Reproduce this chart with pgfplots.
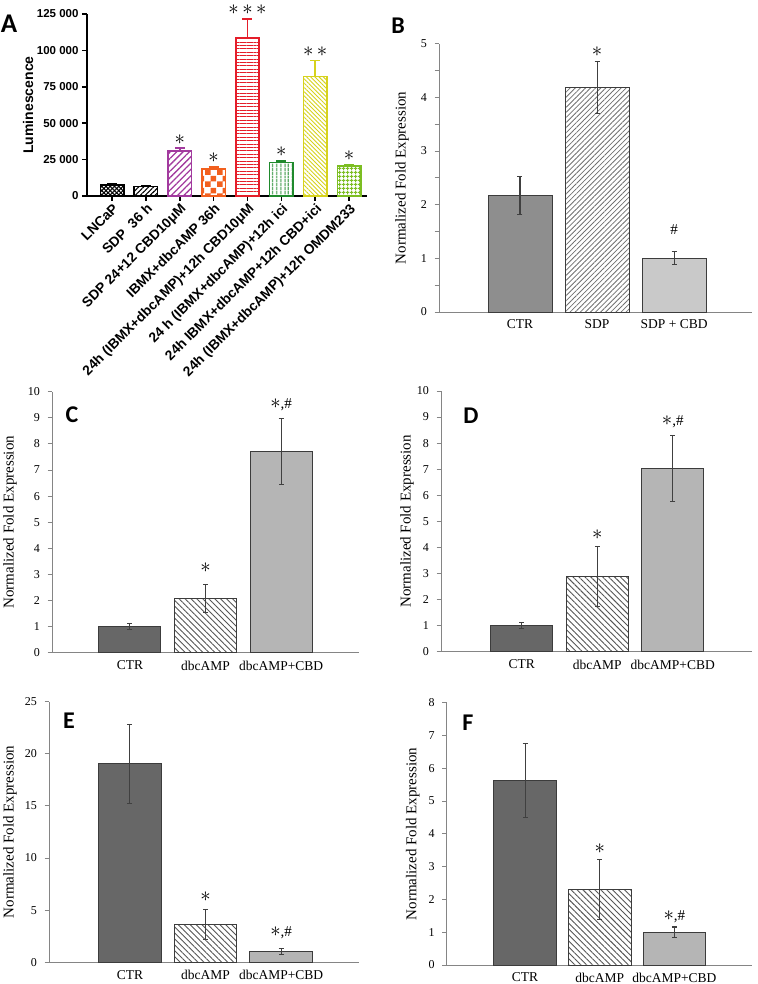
\documentclass[border=0pt]{standalone}
\usepackage{fontspec}
\setmainfont{Liberation Serif}
\newfontfamily\arial{Liberation Sans}
\newfontfamily\calib{Carlito}
\usepackage{pgfplots}
\pgfplotsset{compat=1.18}
\usetikzlibrary{patterns,patterns.meta}

\definecolor{cbdpurple}{HTML}{A23A9E}
\definecolor{dbcorange}{HTML}{F2601E}
\definecolor{cbdred}{HTML}{E41E2A}
\definecolor{icigreen}{HTML}{1F8A2C}
\definecolor{ciyellow}{HTML}{D6D21C}
\definecolor{omdmgreen}{HTML}{7CBE22}
\definecolor{axgray}{HTML}{858585}
\definecolor{edgegray}{HTML}{3C3C3C}
\definecolor{errgray}{HTML}{404040}
\definecolor{ctrB}{HTML}{8E8E8E}
\definecolor{cbdB}{HTML}{C9C9C9}
\definecolor{ctrC}{HTML}{676767}
\definecolor{cbdC}{HTML}{B5B5B5}
\definecolor{hatchB}{HTML}{707070}
\definecolor{hatchC}{HTML}{555555}

\DeclareRobustCommand\sig{{\fontsize{22}{22}\selectfont$\ast$}}
\DeclareRobustCommand\sigii{{\fontsize{22}{22}\selectfont${\ast}\,{\ast}$}}
\DeclareRobustCommand\sigiii{{\fontsize{22}{22}\selectfont${\ast}\,{\ast}\,{\ast}$}}
\DeclareRobustCommand\hsh{{\fontsize{15}{15}\selectfont\#}}
\DeclareRobustCommand\sighsh{{\fontsize{22}{22}\selectfont$\ast$}{\fontsize{15}{15}\selectfont,\#}}

\pgfplotsset{
  /pgf/number format/assume math mode=true,
  barA/.style={ybar, bar shift=0pt, bar width=0.69, draw=#1, line width=1.6pt,
    pattern color=#1,
    error bars/y dir=plus, error bars/y explicit,
    error bars/error bar style={line width=1.6pt, #1},
    error bars/error mark options={rotate=90, line width=1.6pt, #1, mark size=5pt}},
  barF/.style={ybar, bar shift=0pt, bar width=#1, draw=edgegray, line width=0.8pt,
    error bars/y dir=both, error bars/y explicit,
    error bars/error bar style={line width=1.1pt, errgray},
    error bars/error mark options={rotate=90, line width=1.1pt, errgray, mark size=2.5pt}},
  note/.style={only marks, mark=*, mark size=0pt, mark options={draw=none, fill=none},
    nodes near coords, point meta=explicit symbolic,
    nodes near coords style={anchor=south, inner sep=0pt, yshift=#1, text=black}},
  fold/.style={scale only axis, clip=false, ymin=0,
    axis x line=bottom, axis y line=left,
    axis line style={-, draw=axgray, line width=0.9pt},
    xtick={0,1,2}, xtick style={draw=none},
    ytick style={draw=axgray, line width=0.9pt},
    tick align=outside, major tick length=4.5pt, minor tick length=4.5pt,
    xticklabel style={font=\fontsize{13.5}{15}\selectfont, yshift=0pt},
    yticklabel style={font=\fontsize{12}{14}\selectfont, xshift=-4pt},
    ylabel={Normalized Fold Expression},
    ylabel style={font=\fontsize{15}{17}\selectfont, anchor=center}},
}

\begin{document}
\begin{tikzpicture}
\path[use as bounding box] (0pt,0pt) rectangle (757pt,984pt);

% ---------- A ----------
\begin{axis}[
  at={(87pt,788pt)}, anchor=south west, scale only axis, width=280pt, height=182pt,
  clip=false, xmin=-0.74, xmax=7.53, ymin=0, ymax=125000,
  axis x line=bottom, axis y line=left,
  axis line style={-, line width=1.8pt},
  tick style={black, line width=1.6pt}, tick align=outside, major tick length=5pt,
  scaled y ticks=false,
  xtick={0,...,7},
  xticklabels={{LNCaP},{SDP\ \ 36 h},{SDP 24+12 CBD10μM},{IBMX+dbcAMP 36h},{24h (IBMX+dbcAMP)+12h CBD10μM},{24 h (IBMX+dbcAMP)+12h ici},{24h IBMX+dbcAMP+12h CBD+ici},{24h (IBMX+dbcAMP)+12h OMDM233}},
  xticklabel style={rotate=45, anchor=north east, inner sep=1pt, font=\arial\bfseries\fontsize{13.8}{15}\selectfont},
  ytick={0,25000,50000,75000,100000,125000},
  yticklabels={0,25 000,50 000,75 000,100 000,125 000},
  yticklabel style={font=\arial\bfseries\fontsize{11.5}{13}\selectfont},
  ylabel={Luminescence},
  ylabel style={font=\arial\bfseries\fontsize{14}{16}\selectfont, at={(axis description cs:-0.21,0.5)}, anchor=center},
]
\addplot[barA=black, pattern={Hatch[angle=45,distance=3pt,line width=1.1pt]}] coordinates {(0,7500) +- (0,600)};
\addplot[barA=black, pattern={Lines[angle=45,distance=3.5pt,line width=1.1pt]}] coordinates {(1,6500) +- (0,400)};
\addplot[barA=cbdpurple, pattern={Lines[angle=45,distance=4.5pt,line width=1.3pt]}] coordinates {(2,31000) +- (0,1800)};
\addplot[barA=dbcorange, pattern=checkerboard] coordinates {(3,18500) +- (0,1300)};
\addplot[barA=cbdred, pattern={Lines[angle=0,distance=3.4pt,line width=1pt]}] coordinates {(4,108500) +- (0,13000)};
\addplot[barA=icigreen, pattern={Lines[angle=90,distance=4pt,line width=1.2pt]}] coordinates {(5,23000) +- (0,1000)};
\addplot[barA=ciyellow, pattern={Lines[angle=-45,distance=3pt,line width=0.9pt]}] coordinates {(6,82000) +- (0,11000)};
\addplot[barA=omdmgreen, pattern={Hatch[angle=0,distance=4pt,line width=1pt]}] coordinates {(7,20500) +- (0,1000)};
\addplot[note=4pt] coordinates {(2,32800)[\sig] (3,19800)[\sig] (4,121500)[\sigiii] (5,24000)[\sig] (6,93000)[\sigii] (7,21500)[\sig]};
\end{axis}

% ---------- B ----------
\begin{axis}[fold, at={(439pt,672pt)}, anchor=south west, width=313pt, height=268.3pt,
  xmin=-1.05, xmax=3.01, ymax=5, ytick={0,...,5}, minor y tick num=1,
  xticklabels={CTR,SDP,SDP + CBD},
  ylabel style={at={(axis description cs:-0.118,0.5)}}]
\addplot[barF=0.83, fill=ctrB] coordinates {(0,2.17) +- (0,0.36)};
\addplot[barF=0.83, pattern={Lines[angle=45,distance=3.6pt,line width=0.8pt]}, pattern color=hatchB] coordinates {(1,4.18) +- (0,0.48)};
\addplot[barF=0.83, fill=cbdB] coordinates {(2,1.0) +- (0,0.12)};
\addplot[note=5pt] coordinates {(1,4.66)[\sig]};
\addplot[note=17pt] coordinates {(2,1.12)[\hsh]};
\end{axis}

% ---------- C ----------
\begin{axis}[fold, at={(52pt,331.3pt)}, anchor=south west, width=307pt, height=261pt,
  xmin=-1.03, xmax=3.03, ymax=10, ytick={0,...,10},
  xticklabels={CTR,dbcAMP,dbcAMP+CBD},
  ylabel style={at={(axis description cs:-0.137,0.5)}}]
\addplot[barF=0.82, fill=ctrC] coordinates {(0,1.0) +- (0,0.12)};
\addplot[barF=0.82, pattern={Lines[angle=-45,distance=4.2pt,line width=0.9pt]}, pattern color=hatchC] coordinates {(1,2.08) +- (0,0.54)};
\addplot[barF=0.82, fill=cbdC] coordinates {(2,7.72) +- (0,1.27)};
\addplot[note=12pt] coordinates {(1,2.62)[\sig]};
\addplot[note=7pt] coordinates {(2,8.98)[\sighsh]};
\end{axis}

% ---------- D ----------
\begin{axis}[fold, at={(441pt,332.3pt)}, anchor=south west, width=311pt, height=260.7pt,
  xmin=-1.07, xmax=3.05, ymax=10, ytick={0,...,10},
  xticklabels={CTR,dbcAMP,dbcAMP+CBD},
  ylabel style={at={(axis description cs:-0.109,0.5)}}]
\addplot[barF=0.82, fill=ctrC] coordinates {(0,1.0) +- (0,0.12)};
\addplot[barF=0.82, pattern={Lines[angle=-45,distance=4.2pt,line width=0.9pt]}, pattern color=hatchC] coordinates {(1,2.87) +- (0,1.15)};
\addplot[barF=0.82, fill=cbdC] coordinates {(2,7.02) +- (0,1.27)};
\addplot[note=7pt] coordinates {(1,4.03)[\sig]};
\addplot[note=8pt] coordinates {(2,8.29)[\sighsh]};
\end{axis}

% ---------- E ----------
\begin{axis}[fold, at={(49pt,21.7pt)}, anchor=south west, width=310pt, height=260.6pt,
  xmin=-1.07, xmax=3.03, ymax=25, ytick={0,5,...,25},
  xticklabels={CTR,dbcAMP,dbcAMP+CBD},
  ylabel style={at={(axis description cs:-0.126,0.5)}}]
\addplot[barF=0.83, fill=ctrC] coordinates {(0,19.05) +- (0,3.8)};
\addplot[barF=0.83, pattern={Lines[angle=-45,distance=4.2pt,line width=0.9pt]}, pattern color=hatchC] coordinates {(1,3.65) +- (0,1.45)};
\addplot[barF=0.83, fill=cbdC] coordinates {(2,1.05) +- (0,0.27)};
\addplot[note=7pt] coordinates {(1,5.1)[\sig]};
\addplot[note=10pt] coordinates {(2,1.32)[\sighsh]};
\end{axis}

% ---------- F ----------
\begin{axis}[fold, at={(446.7pt,19pt)}, anchor=south west, width=305.3pt, height=262.3pt,
  xmin=-1.05, xmax=3.04, ymax=8, ytick={0,...,8},
  xticklabels={CTR,dbcAMP,dbcAMP+CBD},
  ylabel style={at={(axis description cs:-0.111,0.5)}}]
\addplot[barF=0.84, fill=ctrC] coordinates {(0,5.62) +- (0,1.13)};
\addplot[barF=0.84, pattern={Lines[angle=-45,distance=4.2pt,line width=0.9pt]}, pattern color=hatchC] coordinates {(1,2.30) +- (0,0.92)};
\addplot[barF=0.84, fill=cbdC] coordinates {(2,1.0) +- (0,0.16)};
\addplot[note=6pt] coordinates {(1,3.22)[\sig]};
\addplot[note=4pt] coordinates {(2,1.16)[\sighsh]};
\end{axis}

% panel letters
\begin{scope}[every node/.style={font=\calib\bfseries\fontsize{24}{24}\selectfont, inner sep=0pt}]
\node at (9pt,960pt) {\fontsize{27}{27}\selectfont A};
\node at (398pt,958pt) {B};
\node at (72pt,569pt) {C};
\node at (471pt,568pt) {D};
\node at (69pt,263pt) {E};
\node at (468pt,261pt) {F};
\end{scope}
\end{tikzpicture}
\end{document}
